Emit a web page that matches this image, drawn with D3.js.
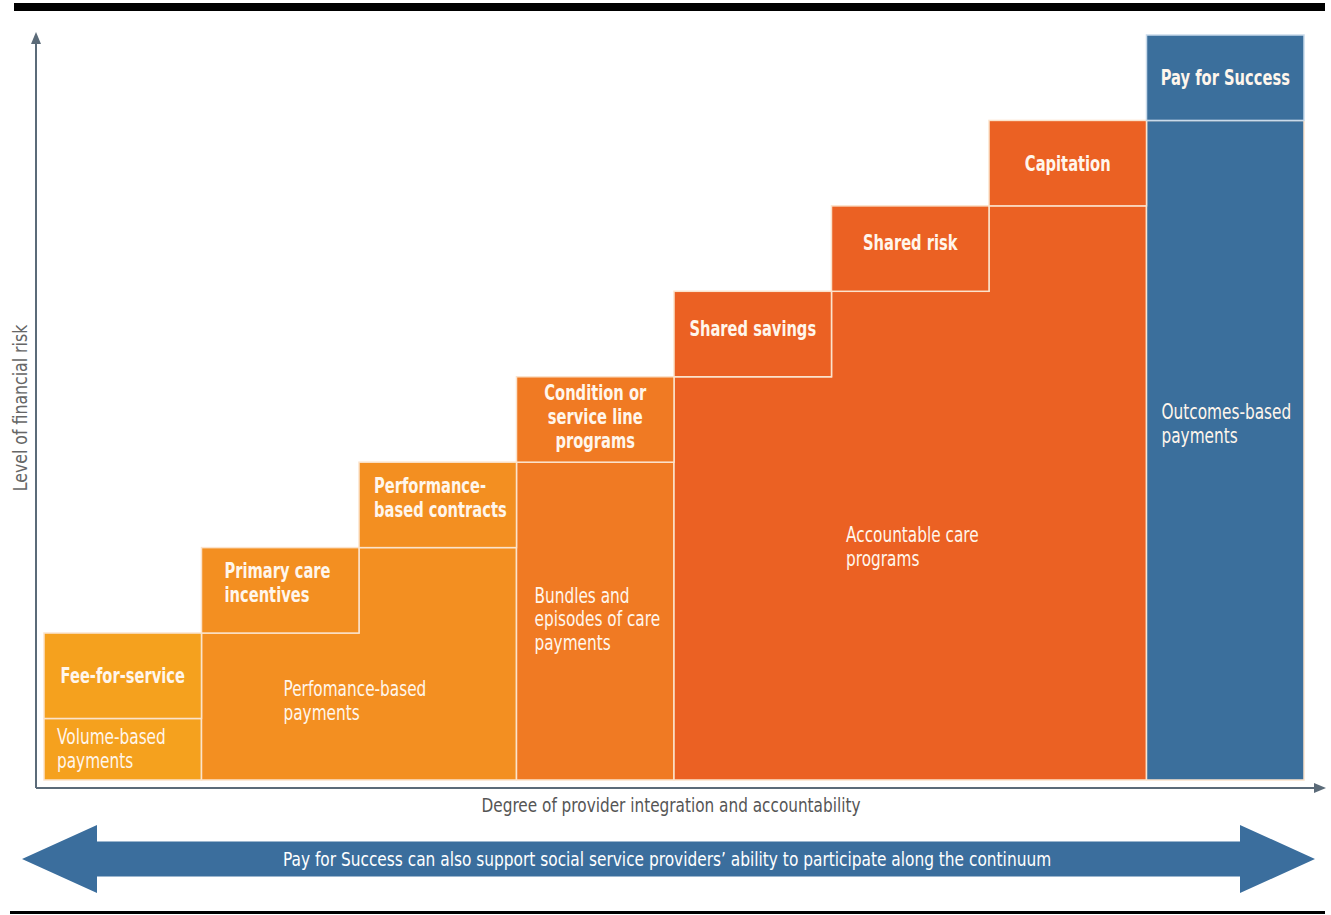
<!DOCTYPE html>
<html>
<head>
<meta charset="utf-8">
<script src="https://cdn.jsdelivr.net/npm/d3@7"></script>
<style>
  body { margin: 0; background: #fff; }
  svg { display: block; }
  text { font-family: "DejaVu Sans", sans-serif; }
</style>
</head>
<body>
<div id="chart-area"></div>
<script>
// step boxes (one per column), left to right
let steps = ["Fee-for-service", "Primary care incentives", "Performance-based contracts",
  "Condition or service line programs", "Shared savings", "Shared risk", "Capitation", "Pay for Success"]
// top of each step, in "risk" units
let stepTop = [1.72, 2.72, 3.72, 4.72, 5.72, 6.72, 7.72, 8.72]
// text lines of each step label
let stepLines = [["Fee-for-service"], ["Primary care", "incentives"], ["Performance-", "based contracts"],
  ["Condition or", "service line", "programs"], ["Shared savings"], ["Shared risk"], ["Capitation"], ["Pay for Success"]]
let stepAlign = ["middle", "start", "start", "middle", "middle", "middle", "middle", "middle"]

// payment groups spanning columns
let groups = ["Volume-based payments", "Perfomance-based payments", "Bundles and episodes of care payments",
  "Accountable care programs", "Outcomes-based payments"]
let groupLines = [["Volume-based", "payments"], ["Perfomance-based", "payments"],
  ["Bundles and", "episodes of care", "payments"], ["Accountable care", "programs"], ["Outcomes-based", "payments"]]
let groupStart = [0, 1, 3, 4, 7]
let groupEnd = [0, 2, 3, 6, 7]
let groupColors = ["#F5A11E", "#F38F21", "#F07A23", "#EB6123", "#3B6F9C"]

let xLabel = "Degree of provider integration and accountability"
let yLabel = "Level of financial risk"
let bannerText = "Pay for Success can also support social service providers\u2019 ability to participate along the continuum"

let width = 1331, height = 915
let margin = { top: 35, right: 27, bottom: 135, left: 44 }

let svg = d3.select("#chart-area").append("svg")
  .attr("width", width)
  .attr("height", height)

let x = d3.scaleBand()
  .domain(d3.range(steps.length))
  .range([margin.left, width - margin.right])
  .padding(0)

let y = d3.scaleLinear()
  .domain([0, d3.max(stepTop)])
  .range([height - margin.bottom, margin.top])

let colGroup = steps.map((s, i) => groups.findIndex((g, j) => i >= groupStart[j] && i <= groupEnd[j]))
let textColor = "#FFF6EC"
let axisColor = "#5B6B79"
let lineH = 24

// condensed text: DejaVu squeezed horizontally
function addText(tx, ty, lines, opts) {
  let g = svg.append("g")
    .attr("transform", "translate(" + tx + "," + ty + ") scale(" + (opts.sx || 0.8) + ",1)")
  let t = g.append("text")
    .attr("text-anchor", opts.anchor || "start")
    .attr("fill", opts.fill || textColor)
    .attr("font-size", opts.size || 21)
    .attr("font-weight", opts.weight || "normal")
  lines.forEach((l, k) => {
    t.append("tspan").attr("x", 0).attr("dy", k == 0 ? 0 : lineH).text(l)
  })
  return g
}

// top and bottom rules
svg.append("rect").attr("x", 14).attr("y", 3).attr("width", 1311).attr("height", 8).attr("fill", "#000")
svg.append("rect").attr("x", 10).attr("y", 911).attr("width", 1315).attr("height", 3).attr("fill", "#000")

// group areas (staircase shapes)
groups.forEach((g, j) => {
  let pts = [[x(groupStart[j]), y(0)]]
  for (let i = groupStart[j]; i <= groupEnd[j]; i++) {
    let t = y(stepTop[i] - 1)
    pts.push([x(i), t])
    pts.push([x(i) + x.bandwidth(), t])
  }
  pts.push([x(groupEnd[j]) + x.bandwidth(), y(0)])
  svg.append("path")
    .attr("d", d3.line()(pts) + "Z")
    .attr("fill", groupColors[j])
    .attr("stroke", "#FBE3CC")
    .attr("stroke-width", 1.5)
})

// step boxes
svg.selectAll(".step")
  .data(steps)
  .enter()
  .append("rect")
    .attr("class", "step")
    .attr("x", (d, i) => x(i))
    .attr("y", (d, i) => y(stepTop[i]))
    .attr("width", x.bandwidth())
    .attr("height", (d, i) => y(stepTop[i] - 1) - y(stepTop[i]))
    .attr("fill", (d, i) => groupColors[colGroup[i]])
    .attr("stroke", (d, i) => colGroup[i] == 4 ? "#C9DAEA" : "#FBE3CC")
    .attr("stroke-width", 1.5)

// step labels
let stepDY = [0, -8, -7, -3, -6, -6, 0, 0]
steps.forEach((s, i) => {
  let lines = stepLines[i]
  let cy = (y(stepTop[i]) + y(stepTop[i] - 1)) / 2 + stepDY[i]
  let tx = stepAlign[i] == "middle" ? x(i) + x.bandwidth() / 2 : x(i) + (i == 1 ? 23 : 15)
  addText(tx, cy - (lines.length - 1) * lineH / 2 + 7.5, lines,
    { anchor: stepAlign[i], weight: "bold", size: 21, sx: 0.7 })
})

// group labels: left offset (px from group's left edge) and vertical position (share of group height)
let labelDX = [13, 82, 18, 172, 15]
let labelFY = [0.5, 0.46, 0.495, 0.595, 0.46]
groups.forEach((g, j) => {
  let lines = groupLines[j]
  let top = d3.min(d3.range(groupStart[j], groupEnd[j] + 1), i => y(stepTop[i] - 1))
  if (j == 1) top = y(stepTop[groupStart[j]] - 1)
  let cy = top + (y(0) - top) * labelFY[j]
  addText(x(groupStart[j]) + labelDX[j], cy - (lines.length - 1) * lineH / 2 + 7, lines,
    { size: 21, sx: 0.73 })
})

// axes with arrowheads
let axisY = 788, axisX = 36
svg.append("line").attr("x1", axisX).attr("y1", axisY).attr("x2", axisX).attr("y2", 42)
  .attr("stroke", axisColor).attr("stroke-width", 2)
svg.append("path").attr("d", d3.line()([[axisX - 5, 44], [axisX, 32], [axisX + 5, 44]]) + "Z")
  .attr("fill", axisColor)
svg.append("line").attr("x1", axisX).attr("y1", axisY).attr("x2", 1316).attr("y2", axisY)
  .attr("stroke", axisColor).attr("stroke-width", 2)
svg.append("path").attr("d", d3.line()([[1314, axisY - 5], [1326, axisY], [1314, axisY + 5]]) + "Z")
  .attr("fill", axisColor)

addText(671, 812, [xLabel], { anchor: "middle", fill: "#555", size: 20, sx: 0.765 })

svg.append("g")
  .attr("transform", "translate(27, 408) rotate(-90) scale(0.83,1)")
  .append("text")
    .attr("text-anchor", "middle")
    .attr("fill", "#666")
    .attr("font-size", 19)
    .text(yLabel)

// double arrow banner
let bx0 = 22, bx1 = 1315, bc = 859, head = 75, hh = 34, sh = 17.5
svg.append("path")
  .attr("d", d3.line()([[bx0, bc], [bx0 + head, bc - hh], [bx0 + head, bc - sh], [bx1 - head, bc - sh],
    [bx1 - head, bc - hh], [bx1, bc], [bx1 - head, bc + hh], [bx1 - head, bc + sh],
    [bx0 + head, bc + sh], [bx0 + head, bc + hh]]) + "Z")
  .attr("fill", "#3B6E9D")

addText(667, bc + 7, [bannerText], { anchor: "middle", fill: "#fff", size: 20, sx: 0.77 })
</script>
</body>
</html>
